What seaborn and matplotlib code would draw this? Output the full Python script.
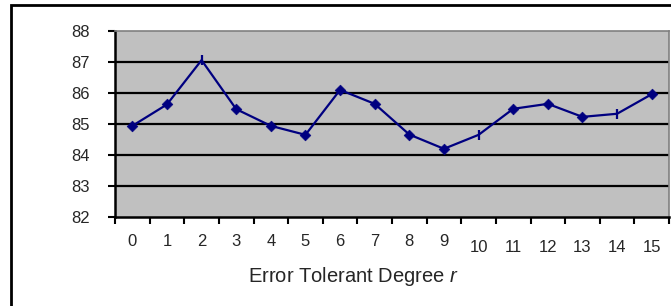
import matplotlib
matplotlib.use("Agg")
import matplotlib.pyplot as plt
import matplotlib.patches as mpatches
from matplotlib.transforms import ScaledTranslation
import seaborn as sns
import pandas as pd

degree = list(range(16))
accuracy = [84.94, 85.63, 87.06, 85.48, 84.94, 84.65, 86.10, 85.65,
            84.66, 84.20, 84.65, 85.49, 85.65, 85.23, 85.33, 85.96]
bar_marker_points = [2, 10, 14]
tick_labels = [str(d) for d in degree]
y_ticks = [82, 83, 84, 85, 86, 87, 88]
x_label = "Error Tolerant Degree $r$"

sns.set_style("white")
plt.rcParams['font.family'] = ['Liberation Sans', 'DejaVu Sans']
plt.rcParams['mathtext.fontset'] = 'custom'
plt.rcParams['mathtext.it'] = 'Liberation Sans:italic'
plt.rcParams['mathtext.rm'] = 'Liberation Sans'

df = pd.DataFrame({"degree": degree, "accuracy": accuracy})
df["kind"] = ["bar" if d in bar_marker_points else "diamond" for d in degree]

fig = plt.figure(figsize=(6.71, 3.06), dpi=100)
ax = fig.add_axes([115/671, 1-217/306, (669-115)/671, (217-31)/306])

# outer chart border (left & top visible)
fig.patches.append(mpatches.Rectangle((11/671, -0.1), 1.2, 1-5/306+0.1,
                                      transform=fig.transFigure, fill=False,
                                      edgecolor='black', linewidth=2.0, zorder=0))

ax.set_facecolor('#C0C0C0')
for y in y_ticks[1:-1]:
    ax.axhline(y, color='black', linewidth=1.6, zorder=1)

navy = '#000080'
sns.lineplot(data=df, x="degree", y="accuracy", ax=ax, color=navy,
             linewidth=1.6, zorder=3)
sns.scatterplot(data=df[df.kind == "diamond"], x="degree", y="accuracy", ax=ax,
                marker='D', s=30, color=navy, edgecolor=navy, zorder=4)
sns.scatterplot(data=df[df.kind == "bar"], x="degree", y="accuracy", ax=ax,
                marker='|', s=60, color=navy, linewidth=1.6, zorder=4)

ax.set_xlim(-0.5, 15.5)
ax.set_ylim(82, 88)
ax.set_yticks(y_ticks)
ax.set_yticklabels([str(v) for v in y_ticks], fontsize=12)
ax.set_xticks(degree)
ax.set_xticklabels(tick_labels, fontsize=12)
ax.set_xticks([d - 0.5 for d in degree] + [15.5], minor=True)
ax.tick_params(axis='x', which='major', length=0, pad=12)
ax.tick_params(axis='x', which='minor', direction='out', length=5, width=1.5,
               color='black', bottom=True)
ax.tick_params(axis='y', which='major', direction='out', length=5, width=1.5,
               color='black', left=True, pad=13)

for i, lab in enumerate(ax.get_xticklabels()):
    if i >= 10:
        lab.set_transform(lab.get_transform() + ScaledTranslation(0, -6/100, fig.dpi_scale_trans))

ax.set_xlabel("")
ax.set_ylabel("")
for side in ['left', 'bottom']:
    ax.spines[side].set_color('black')
    ax.spines[side].set_linewidth(1.8)
for side in ['top', 'right']:
    ax.spines[side].set_color('#808080')
    ax.spines[side].set_linewidth(1.2)

fig.text(353/671, 1-277/306, x_label, ha='center', va='center', fontsize=14.5)

fig.savefig("out.png", dpi=100)
